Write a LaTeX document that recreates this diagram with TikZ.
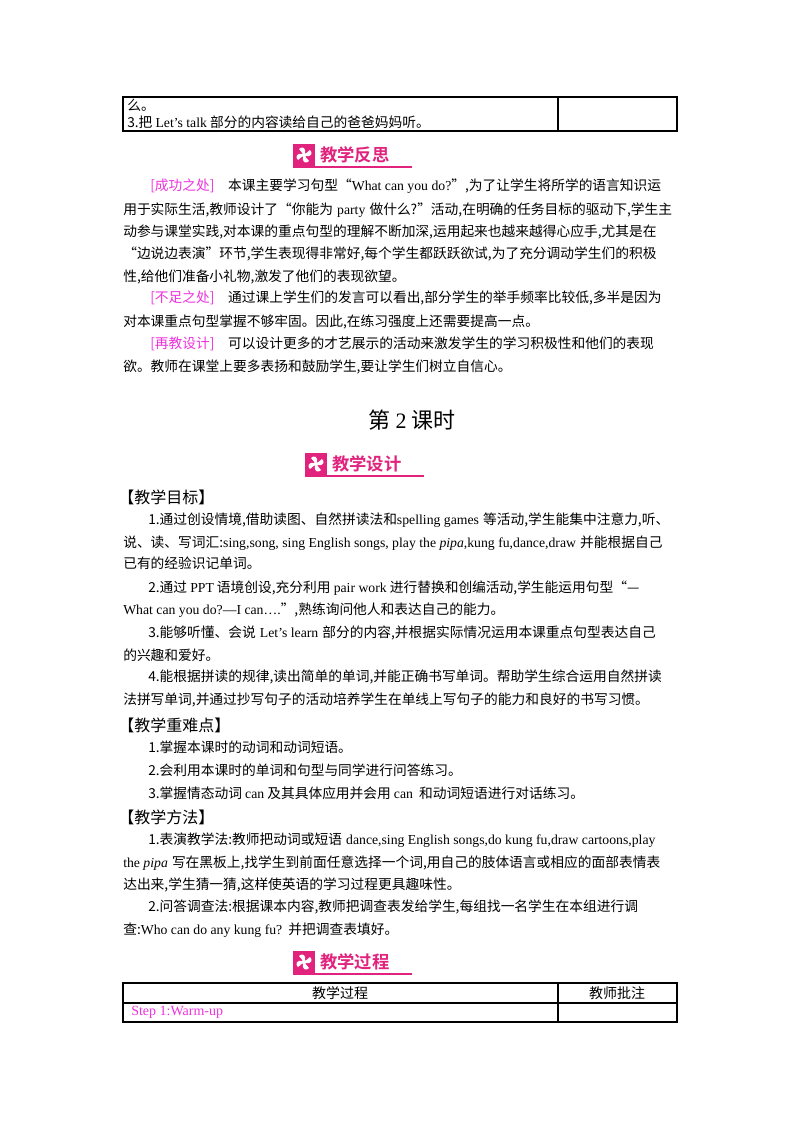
\documentclass[tikz,border=0pt]{standalone}
\usepackage{fontspec}
\setmainfont{Liberation Serif}
\newfontfamily\cjk{Noto Sans CJK SC}
\newfontfamily\cjkb{Noto Sans CJK SC Bold}
\XeTeXlinebreaklocale "zh"
\XeTeXlinebreakskip=0pt plus 1fil
\definecolor{pk}{HTML}{E2237E}
\definecolor{mg}{HTML}{EE33DD}
\newcommand{\en}[1]{{\rmfamily\spaceskip=\fontdimen2\font\relax #1}}
\newcommand{\fli}[1]{\hbox to 397.5pt{\spaceskip=0.3em\relax #1}}
\newcommand{\fln}[1]{\hbox to 416.25pt{\spaceskip=0.3em\relax #1}}
\tikzset{
 tx/.style={anchor=west,inner sep=0pt,font=\cjk\fontsize{10.3pt}{12pt}\selectfont},
 hd/.style={anchor=west,inner sep=0pt,font=\cjk\fontsize{12pt}{14pt}\selectfont},
 bt/.style={anchor=west,inner sep=0pt,text=pk,font=\cjkb\fontsize{13pt}{15pt}\selectfont},
 box/.style={draw=black,line width=1pt}
}
\newcommand{\badge}[4]{% x y name text
 \fill[pk] (#1,#2-11) rectangle (#1+22,#2+11);
 \foreach \a in {0,90,180,270}{\fill[white,rotate around={\a:(#1+11,#2)}] (#1+11,#2) .. controls (#1+15,#2-8) and (#1+8,#2-9) .. (#1+6,#2-6) -- cycle;}
 \fill[white] (#1+11,#2) circle (2.2);
 \node[bt] (#3) at (#1+27,#2) {#4};
 \draw[pk,line width=0.8pt] (#1,#2+12) -- (#1+119,#2+12);
}
\begin{document}
\begin{tikzpicture}[x=0.75pt,y=-0.75pt]
\useasboundingbox[fill=white] (0,0) rectangle (800,1132);
% top table
\draw[box] (123,97) rectangle (677,131);
\draw[box] (558,97) -- (558,131);
\node[tx] (t1) at (127,105) {么。};
\node[tx] (t2) at (127,122) {3.把 \en{Let's talk} 部分的内容读给自己的爸爸妈妈听。};
\badge{293}{155}{b1}{教学反思}
\node[tx] (p1) at (150,186) {\fli{{\color{mg}[成功之处]}\quad 本课主要学习句型“\en{What can you do?}”,为了让学生将所学的语言知识运}};
\node[tx] (p2) at (123,210) {\fln{用于实际生活,教师设计了“你能为 \en{party} 做什么?”活动,在明确的任务目标的驱动下,学生主}};
\node[tx] (p3) at (123,232) {\fln{动参与课堂实践,对本课的重点句型的理解不断加深,运用起来也越来越得心应手,尤其是在}};
\node[tx] (p4) at (123,254) {\fln{“边说边表演”环节,学生表现得非常好,每个学生都跃跃欲试,为了充分调动学生们的积极}};
\node[tx] (p5) at (123,277) {性,给他们准备小礼物,激发了他们的表现欲望。};
\node[tx] (p6) at (150,298) {\fli{{\color{mg}[不足之处]}\quad 通过课上学生们的发言可以看出,部分学生的举手频率比较低,多半是因为}};
\node[tx] (p7) at (123,322) {对本课重点句型掌握不够牢固。因此,在练习强度上还需要提高一点。};
\node[tx] (p8) at (150,344) {{\color{mg}[再教设计]}\quad 可以设计更多的才艺展示的活动来激发学生的学习积极性和他们的表现};
\node[tx] (p9) at (123,367) {欲。教师在课堂上要多表扬和鼓励学生,要让学生们树立自信心。};
\node[anchor=center,inner sep=0pt,font=\cjk\fontsize{16.5pt}{18pt}\selectfont] (title) at (412,420) {第 \en{2} 课时};
\badge{305}{464}{b2}{教学设计}
\node[hd] (h1) at (118,497) {【教学目标】};
\node[tx] (q1) at (148,520) {\fli{1.通过创设情境,借助读图、自然拼读法和\en{spelling games} 等活动,学生能集中注意力,听、}};
\node[tx] (q2) at (123,543) {\fln{说、读、写词汇:\en{sing,song, sing English songs, play the \textit{pipa},kung fu,dance,draw} 并能根据自己}};
\node[tx] (q3) at (123,563) {已有的经验识记单词。};
\node[tx] (q4) at (148,588) {2.通过 \en{PPT} 语境创设,充分利用 \en{pair work} 进行替换和创编活动,学生能运用句型“—};
\node[tx] (q5) at (123,610) {\en{What can you do?—I can….}”,熟练询问他人和表达自己的能力。};
\node[tx] (q6) at (148,633) {\fli{3.能够听懂、会说 \en{Let’s learn} 部分的内容,并根据实际情况运用本课重点句型表达自己}};
\node[tx] (q7) at (123,655) {的兴趣和爱好。};
\node[tx] (q8) at (148,677) {\fli{4.能根据拼读的规律,读出简单的单词,并能正确书写单词。帮助学生综合运用自然拼读}};
\node[tx] (q9) at (123,700) {\fln{法拼写单词,并通过抄写句子的活动培养学生在单线上写句子的能力和良好的书写习惯。}};
\node[hd] (h2) at (118,725) {【教学重难点】};
\node[tx] (r1) at (148,747) {1.掌握本课时的动词和动词短语。};
\node[tx] (r2) at (148,770) {2.会利用本课时的单词和句型与同学进行问答练习。};
\node[tx] (r3) at (148,793) {3.掌握情态动词 \en{can} 及其具体应用并会用 \en{can}\ \ 和动词短语进行对话练习。};
\node[hd] (h3) at (118,817) {【教学方法】};
\node[tx] (s1) at (148,840) {\fli{1.表演教学法:教师把动词或短语 \en{dance,sing English songs,do kung fu,draw cartoons,play}}};
\node[tx] (s2) at (123,863) {\fln{\en{the \textit{pipa}} 写在黑板上,找学生到前面任意选择一个词,用自己的肢体语言或相应的面部表情表}};
\node[tx] (s3) at (123,885) {达出来,学生猜一猜,这样使英语的学习过程更具趣味性。};
\node[tx] (s4) at (148,907) {2.问答调查法:根据课本内容,教师把调查表发给学生,每组找一名学生在本组进行调};
\node[tx] (s5) at (123,930) {查:\en{Who can do any kung fu?}\ \ 并把调查表填好。};
\badge{293}{962}{b3}{教学过程}
% bottom table
\draw[box] (123,983) rectangle (677,1022);
\draw[box] (123,1003) -- (677,1003);
\draw[box] (558,983) -- (558,1022);
\node[anchor=center,inner sep=0pt,font=\cjk\fontsize{10.5pt}{12pt}\selectfont] (c1) at (340,993) {教学过程};
\node[anchor=center,inner sep=0pt,font=\cjk\fontsize{10.5pt}{12pt}\selectfont] (c2) at (617,993) {教师批注};
\node[anchor=west,inner sep=0pt,text=mg,font=\rmfamily\fontsize{10.5pt}{12pt}\selectfont] (c3) at (131,1012) {Step 1:Warm-up};
\end{tikzpicture}
\end{document}
